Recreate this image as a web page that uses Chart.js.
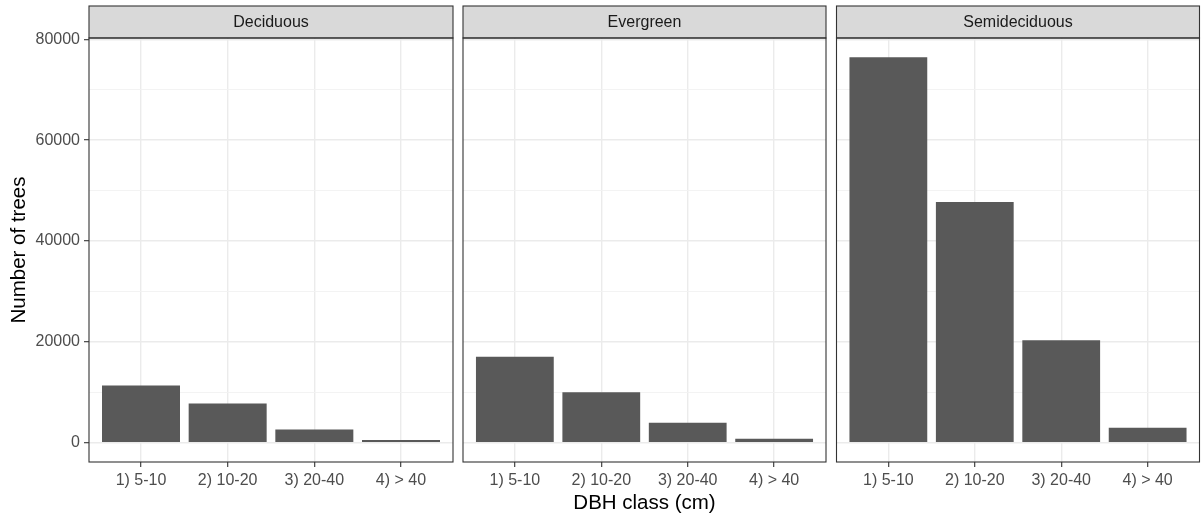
<!DOCTYPE html>
<html>
<head>
<meta charset="utf-8">
<script src="https://cdn.jsdelivr.net/npm/chart.js@4"></script>
<style>
  html, body { margin: 0; padding: 0; background: #ffffff; }
  #wrap { position: relative; width: 1203px; height: 521px; }
  #wrap canvas { position: absolute; left: 0; top: 0; }
</style>
</head>
<body>
<div id="wrap">
  <canvas id="c1" width="1203" height="521"></canvas>
  <canvas id="c2" width="1203" height="521"></canvas>
  <canvas id="c3" width="1203" height="521"></canvas>
</div>
<script>
// DBH classes (x axis)
const classes = ['1) 5-10', '2) 10-20', '3) 20-40', '4) > 40'];

// number of trees per class, one array per facet
const deciduous = [11350, 7780, 2640, 520];
const evergreen = [17030, 10020, 3960, 790];
const semideciduous = [76440, 47720, 20320, 2970];

const yTicks = [0, 20000, 40000, 60000, 80000];
const yMinor = [10000, 30000, 50000, 70000];

const fontFam = '"Liberation Sans", Arial, sans-serif';
const stripTop = 6;

// gray facet strip + black panel border, like ggplot theme_bw
const facetStrip = {
    id: 'facetStrip',
    afterDraw(chart, args, opts) {
        const { ctx, chartArea: a } = chart;
        ctx.save();
        ctx.fillStyle = '#d9d9d9';
        ctx.fillRect(a.left, stripTop, a.right - a.left, a.top - stripTop);
        ctx.strokeStyle = '#333333';
        ctx.lineWidth = 1.1;
        ctx.strokeRect(a.left, stripTop, a.right - a.left, a.top - stripTop);
        ctx.strokeRect(a.left, a.top, a.right - a.left, a.bottom - a.top);
        ctx.fillStyle = '#1a1a1a';
        ctx.font = '16px ' + fontFam;
        ctx.textAlign = 'center';
        ctx.textBaseline = 'middle';
        ctx.fillText(opts.text, (a.left + a.right) / 2, (stripTop + a.top) / 2 + 1);
        ctx.restore();
    }
};

function makeFacet(id, label, values, left, right, first, xTitle) {
    const points = values.map((v, i) => ({ x: i + 1, y: v }));
    return new Chart(document.getElementById(id), {
        type: 'bar',
        data: {
            datasets: [{
                data: points,
                backgroundColor: '#595959',
                borderWidth: 0,
                categoryPercentage: 1,
                barPercentage: 0.9
            }]
        },
        plugins: [facetStrip],
        options: {
            responsive: false,
            animation: false,
            events: [],
            layout: { padding: { left: left, right: right, top: 38, bottom: 0 } },
            plugins: {
                legend: { display: false },
                tooltip: { enabled: false },
                facetStrip: { text: label }
            },
            scales: {
                x: {
                    type: 'linear',
                    min: 0.4,
                    max: 4.6,
                    offset: false,
                    afterBuildTicks: (s) => { s.ticks = classes.map((c, i) => ({ value: i + 1 })); },
                    afterFit: (s) => { s.height = 59; },
                    border: { display: false },
                    grid: {
                        offset: false,
                        color: '#ebebeb',
                        lineWidth: 1.4,
                        tickColor: '#333333',
                        tickLength: 5,
                        tickWidth: 1.1
                    },
                    ticks: {
                        color: '#4d4d4d',
                        font: { family: fontFam, size: 16 },
                        padding: 4,
                        maxRotation: 0,
                        callback: (v) => classes[v - 1]
                    },
                    title: {
                        display: xTitle,
                        text: 'DBH class (cm)',
                        color: '#000000',
                        font: { family: fontFam, size: 20.5 },
                        padding: { top: 0, bottom: 5 }
                    }
                },
                y: {
                    min: -3822,
                    max: 80262,
                    afterBuildTicks: (s) => {
                        s.ticks = yTicks.concat(yMinor).sort((a, b) => a - b).map(v => ({ value: v }));
                    },
                    afterFit: (s) => { s.width = first ? 89 : 0; },
                    border: { display: false },
                    grid: {
                        color: (c) => c.tick && c.tick.value % 20000 === 0 ? '#ebebeb' : '#f2f2f2',
                        lineWidth: (c) => c.tick && c.tick.value % 20000 === 0 ? 1.4 : 0.9,
                        drawTicks: first,
                        tickColor: (c) => c.tick && c.tick.value % 20000 === 0 ? '#333333' : 'rgba(0,0,0,0)',
                        tickLength: 5,
                        tickWidth: 1.1
                    },
                    ticks: {
                        display: first,
                        color: '#4d4d4d',
                        font: { family: fontFam, size: 16 },
                        padding: 4,
                        callback: (v) => yTicks.includes(v) ? String(v) : ''
                    },
                    title: {
                        display: first,
                        text: 'Number of trees',
                        color: '#000000',
                        font: { family: fontFam, size: 20.5 },
                        padding: { top: 7, bottom: 0 }
                    }
                }
            }
        }
    });
}

makeFacet('c1', 'Deciduous', deciduous, 0, 1203 - 453, true, false);
makeFacet('c2', 'Evergreen', evergreen, 463, 1203 - 826, false, true);
makeFacet('c3', 'Semideciduous', semideciduous, 836.5, 3.5, false, false);
</script>
</body>
</html>
